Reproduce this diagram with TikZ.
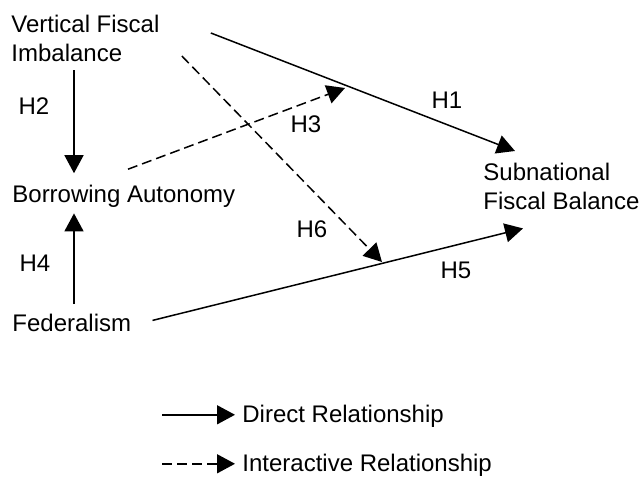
\documentclass[tikz,border=0pt]{standalone}
\usepackage{fontspec}
\setmainfont{Liberation Sans}
\usepackage{tikz}
\usetikzlibrary{arrows.meta,positioning,calc}

\begin{document}
\begin{tikzpicture}[
    x=0.5pt, y=-0.5pt,
    font=\fontsize{12}{14.5}\selectfont,
    var/.style={inner sep=0pt, align=left},
    hyp/.style={inner sep=0pt},
    direct/.style={-{Triangle[length=9pt, width=9.5pt]}, line width=0.75pt},
    interact/.style={direct, dash pattern=on 5pt off 2.5pt}
]
    \useasboundingbox (0,0) rectangle (639,481);

    % Variables
    \node[var, anchor=north west] (vfi) at (11,15) {Vertical Fiscal\\Imbalance};
    \node[var, anchor=base west] (ba) at (12,203) {Borrowing Autonomy};
    \node[var, anchor=base west] (fed) at (12,332) {Federalism};
    \node[var, anchor=north west] (sfb) at (483,163) {Subnational\\Fiscal Balance};

    % Ends of the interaction arrows (on the direct paths)
    \coordinate (h3end) at (345,88);
    \coordinate (h6end) at (382,262);

    % Direct relationships
    \draw[direct] ([shift={(63,8)}]vfi.south west) -- ([shift={(62,-12)}]ba.north west);
    \draw[direct] ([shift={(62,-10)}]fed.north west) -- ([shift={(62,5)}]ba.south west);
    \draw[direct] ([shift={(51,18)}]vfi.north east) -- ([shift={(32,-12)}]sfb.north west);
    \draw[direct] ([shift={(21,-3)}]fed.east) -- ([shift={(40,18)}]sfb.south west);

    % Interactive relationships
    \draw[interact] ([shift={(116,-16)}]ba.north west) -- (h3end);
    \draw[interact] ([shift={(22,41)}]vfi.north east) -- (h6end);

    % Hypothesis labels
    \node[hyp] (h1) at (447,100) {H1};
    \node[hyp] (h2) at (34,106) {H2};
    \node[hyp] (h3) at (306,124) {H3};
    \node[hyp] (h4) at (35,263) {H4};
    \node[hyp] (h5) at (456,270) {H5};
    \node[hyp] (h6) at (312,229) {H6};

    % Legend
    \node[var, anchor=base west] (ldir) at (242,423) {Direct Relationship};
    \node[var, anchor=base west] (lint) at (242,472) {Interactive Relationship};
    \draw[direct] ([shift={(-80,-2)}]ldir.west) -- ([shift={(-7,-2)}]ldir.west);
    \draw[interact] ([shift={(-80,-2)}]lint.west) -- ([shift={(-7,-2)}]lint.west);
\end{tikzpicture}
\end{document}
